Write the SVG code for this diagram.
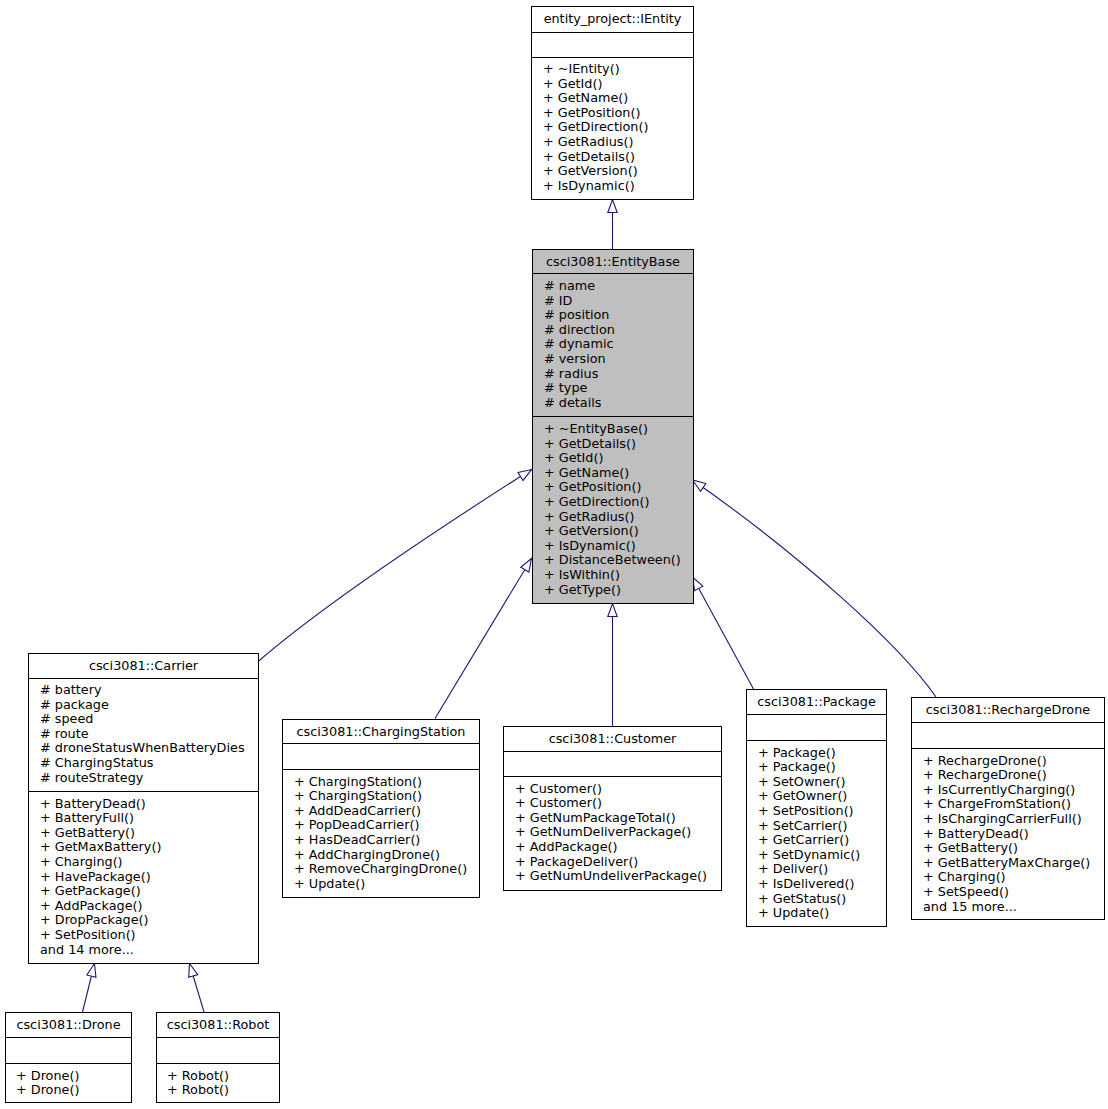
<svg xmlns="http://www.w3.org/2000/svg" width="1108" height="1109" viewBox="0 0 1108 1109">
<defs>
<style>
.box{fill:#ffffff;stroke:#000000;stroke-width:1}
.base{fill:#bfbfbf;stroke:#000000;stroke-width:1}
.sep{stroke:#000000;stroke-width:1}
text{font-family:"DejaVu Sans","Liberation Sans",sans-serif;font-size:12.8px;fill:#000000}
.t{text-anchor:middle}
.edge{fill:none;stroke:#191970;stroke-width:1.1}
</style>
<marker id="inh" markerUnits="userSpaceOnUse" markerWidth="16" markerHeight="12" refX="13" refY="5" orient="auto" overflow="visible">
<path d="M0,0.3 L13,5 L0,9.7 Z" fill="#ffffff" stroke="#191970" stroke-width="1.1"/>
</marker>
</defs>
<rect width="1108" height="1109" fill="#ffffff"/>

<g id="connectors">
<path class="edge" d="M612.5,249 L612.5,199.5" marker-end="url(#inh)"/>
<path class="edge" d="M257.5,662 C320,608 430,534 531.5,469.5" marker-end="url(#inh)"/>
<path class="edge" d="M435,718.5 L531.5,558.5" marker-end="url(#inh)"/>
<path class="edge" d="M612.5,726 L612.5,603.5" marker-end="url(#inh)"/>
<path class="edge" d="M753.5,689 L692.5,577" marker-end="url(#inh)"/>
<path class="edge" d="M936,697 C900,645 800,555 692.5,480" marker-end="url(#inh)"/>
<path class="edge" d="M82.5,1012 L94.5,963.5" marker-end="url(#inh)"/>
<path class="edge" d="M204,1012 L189.5,963.5" marker-end="url(#inh)"/>
</g>

<g id="IEntity">
<rect class="box" x="531.5" y="6.5" width="162" height="193"/>
<line class="sep" x1="531.5" y1="32.5" x2="693.5" y2="32.5"/>
<line class="sep" x1="531.5" y1="57.5" x2="693.5" y2="57.5"/>
<text class="t" x="612.5" y="23">entity_project::IEntity</text>
<text x="543" y="73">+ ~IEntity()</text>
<text x="543" y="87.6">+ GetId()</text>
<text x="543" y="102.2">+ GetName()</text>
<text x="543" y="116.8">+ GetPosition()</text>
<text x="543" y="131.4">+ GetDirection()</text>
<text x="543" y="146">+ GetRadius()</text>
<text x="543" y="160.6">+ GetDetails()</text>
<text x="543" y="175.2">+ GetVersion()</text>
<text x="543" y="189.8">+ IsDynamic()</text>
</g>

<g id="EntityBase">
<rect class="base" x="532.5" y="249.5" width="161" height="354"/>
<line class="sep" x1="532.5" y1="273.5" x2="693.5" y2="273.5"/>
<line class="sep" x1="532.5" y1="416.5" x2="693.5" y2="416.5"/>
<text class="t" x="613" y="266">csci3081::EntityBase</text>
<text x="544" y="290"># name</text>
<text x="544" y="304.6"># ID</text>
<text x="544" y="319.2"># position</text>
<text x="544" y="333.8"># direction</text>
<text x="544" y="348.4"># dynamic</text>
<text x="544" y="363"># version</text>
<text x="544" y="377.6"># radius</text>
<text x="544" y="392.2"># type</text>
<text x="544" y="406.8"># details</text>
<text x="544" y="433">+ ~EntityBase()</text>
<text x="544" y="447.6">+ GetDetails()</text>
<text x="544" y="462.2">+ GetId()</text>
<text x="544" y="476.8">+ GetName()</text>
<text x="544" y="491.4">+ GetPosition()</text>
<text x="544" y="506">+ GetDirection()</text>
<text x="544" y="520.6">+ GetRadius()</text>
<text x="544" y="535.2">+ GetVersion()</text>
<text x="544" y="549.8">+ IsDynamic()</text>
<text x="544" y="564.4">+ DistanceBetween()</text>
<text x="544" y="579">+ IsWithin()</text>
<text x="544" y="593.6">+ GetType()</text>
</g>

<g id="Carrier">
<rect class="box" x="28.5" y="653.5" width="230" height="310"/>
<line class="sep" x1="28.5" y1="678.5" x2="258.5" y2="678.5"/>
<line class="sep" x1="28.5" y1="791.5" x2="258.5" y2="791.5"/>
<text class="t" x="143.5" y="669.5">csci3081::Carrier</text>
<text x="40" y="694"># battery</text>
<text x="40" y="708.6"># package</text>
<text x="40" y="723.2"># speed</text>
<text x="40" y="737.8"># route</text>
<text x="40" y="752.4"># droneStatusWhenBatteryDies</text>
<text x="40" y="767"># ChargingStatus</text>
<text x="40" y="781.6"># routeStrategy</text>
<text x="40" y="807.5">+ BatteryDead()</text>
<text x="40" y="822.1">+ BatteryFull()</text>
<text x="40" y="836.7">+ GetBattery()</text>
<text x="40" y="851.3">+ GetMaxBattery()</text>
<text x="40" y="865.9">+ Charging()</text>
<text x="40" y="880.5">+ HavePackage()</text>
<text x="40" y="895.1">+ GetPackage()</text>
<text x="40" y="909.7">+ AddPackage()</text>
<text x="40" y="924.3">+ DropPackage()</text>
<text x="40" y="938.9">+ SetPosition()</text>
<text x="40" y="953.5">and 14 more...</text>
</g>

<g id="ChargingStation">
<rect class="box" x="282.5" y="719.5" width="197" height="178"/>
<line class="sep" x1="282.5" y1="743.5" x2="479.5" y2="743.5"/>
<line class="sep" x1="282.5" y1="769.5" x2="479.5" y2="769.5"/>
<text class="t" x="381" y="735.5">csci3081::ChargingStation</text>
<text x="294" y="785.5">+ ChargingStation()</text>
<text x="294" y="800.1">+ ChargingStation()</text>
<text x="294" y="814.7">+ AddDeadCarrier()</text>
<text x="294" y="829.3">+ PopDeadCarrier()</text>
<text x="294" y="843.9">+ HasDeadCarrier()</text>
<text x="294" y="858.5">+ AddChargingDrone()</text>
<text x="294" y="873.1">+ RemoveChargingDrone()</text>
<text x="294" y="887.7">+ Update()</text>
</g>

<g id="Customer">
<rect class="box" x="503.5" y="726.5" width="218" height="164"/>
<line class="sep" x1="503.5" y1="751.5" x2="721.5" y2="751.5"/>
<line class="sep" x1="503.5" y1="776.5" x2="721.5" y2="776.5"/>
<text class="t" x="612.5" y="742.5">csci3081::Customer</text>
<text x="515" y="792.5">+ Customer()</text>
<text x="515" y="807.1">+ Customer()</text>
<text x="515" y="821.7">+ GetNumPackageTotal()</text>
<text x="515" y="836.3">+ GetNumDeliverPackage()</text>
<text x="515" y="850.9">+ AddPackage()</text>
<text x="515" y="865.5">+ PackageDeliver()</text>
<text x="515" y="880.1">+ GetNumUndeliverPackage()</text>
</g>

<g id="Package">
<rect class="box" x="746.5" y="689.5" width="140" height="237"/>
<line class="sep" x1="746.5" y1="714.5" x2="886.5" y2="714.5"/>
<line class="sep" x1="746.5" y1="740.5" x2="886.5" y2="740.5"/>
<text class="t" x="816.5" y="705.5">csci3081::Package</text>
<text x="758" y="756.5">+ Package()</text>
<text x="758" y="771.1">+ Package()</text>
<text x="758" y="785.7">+ SetOwner()</text>
<text x="758" y="800.3">+ GetOwner()</text>
<text x="758" y="814.9">+ SetPosition()</text>
<text x="758" y="829.5">+ SetCarrier()</text>
<text x="758" y="844.1">+ GetCarrier()</text>
<text x="758" y="858.7">+ SetDynamic()</text>
<text x="758" y="873.3">+ Deliver()</text>
<text x="758" y="887.9">+ IsDelivered()</text>
<text x="758" y="902.5">+ GetStatus()</text>
<text x="758" y="917.1">+ Update()</text>
</g>

<g id="RechargeDrone">
<rect class="box" x="911.5" y="697.5" width="193" height="222"/>
<line class="sep" x1="911.5" y1="722.5" x2="1104.5" y2="722.5"/>
<line class="sep" x1="911.5" y1="748.5" x2="1104.5" y2="748.5"/>
<text class="t" x="1008" y="713.5">csci3081::RechargeDrone</text>
<text x="923" y="764.5">+ RechargeDrone()</text>
<text x="923" y="779.1">+ RechargeDrone()</text>
<text x="923" y="793.7">+ IsCurrentlyCharging()</text>
<text x="923" y="808.3">+ ChargeFromStation()</text>
<text x="923" y="822.9">+ IsChargingCarrierFull()</text>
<text x="923" y="837.5">+ BatteryDead()</text>
<text x="923" y="852.1">+ GetBattery()</text>
<text x="923" y="866.7">+ GetBatteryMaxCharge()</text>
<text x="923" y="881.3">+ Charging()</text>
<text x="923" y="895.9">+ SetSpeed()</text>
<text x="923" y="910.5">and 15 more...</text>
</g>

<g id="Drone">
<rect class="box" x="5.5" y="1012.5" width="126" height="90"/>
<line class="sep" x1="5.5" y1="1037.5" x2="131.5" y2="1037.5"/>
<line class="sep" x1="5.5" y1="1063.5" x2="131.5" y2="1063.5"/>
<text class="t" x="68.5" y="1029">csci3081::Drone</text>
<text x="16" y="1079.5">+ Drone()</text>
<text x="16" y="1094.1">+ Drone()</text>
</g>

<g id="Robot">
<rect class="box" x="156.5" y="1012.5" width="123" height="90"/>
<line class="sep" x1="156.5" y1="1037.5" x2="279.5" y2="1037.5"/>
<line class="sep" x1="156.5" y1="1063.5" x2="279.5" y2="1063.5"/>
<text class="t" x="218" y="1029">csci3081::Robot</text>
<text x="167" y="1079.5">+ Robot()</text>
<text x="167" y="1094.1">+ Robot()</text>
</g>
</svg>
